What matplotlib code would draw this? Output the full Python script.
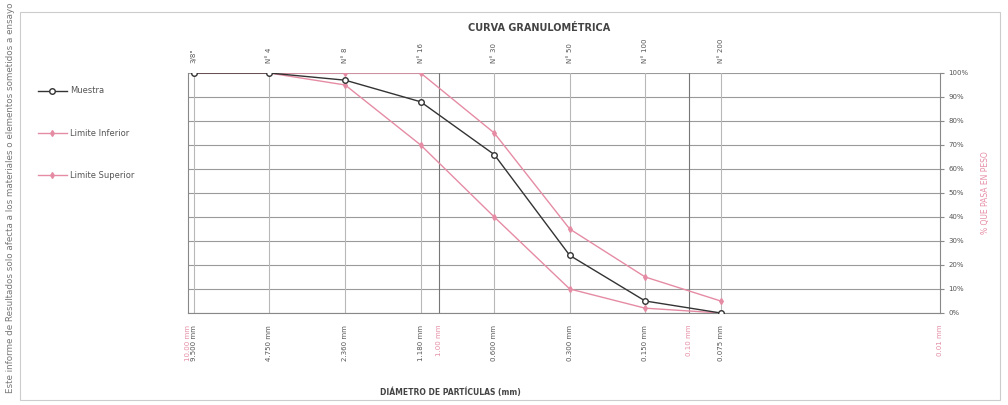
import numpy as np
import matplotlib.pyplot as plt
from matplotlib.patches import Rectangle
from matplotlib.transforms import blended_transform_factory

# sieve series
tamices = ['3/8"', 'N° 4', 'N° 8', 'N° 16', 'N° 30', 'N° 50', 'N° 100', 'N° 200']
aberturas = [9.500, 4.750, 2.360, 1.180, 0.600, 0.300, 0.150, 0.075]

# % passing
muestra = [100, 100, 97, 88, 66, 24, 5, 0]
lim_inferior = [100, 100, 95, 70, 40, 10, 2, 0]
lim_superior = [100, 100, 100, 100, 75, 35, 15, 5]

# decade marks on the diameter axis
decadas = [10.0, 1.0, 0.1, 0.01]
decadas_txt = ['10.00 mm', '1.00 mm', '0.10 mm', '0.01 mm']

rosa = '#e58ca4'
gris = '#555555'

fig = plt.figure(figsize=(10.08, 4.05), dpi=100)
fig.patches.append(Rectangle((0.02, 0.012), 0.972, 0.958, transform=fig.transFigure,
                             fill=False, edgecolor='#cccccc', lw=0.8))

ax = fig.add_axes([0.1865, 0.2272, 0.746, 0.5926])
ax.set_xscale('log')
ax.set_xlim(10, 0.01)
ax.set_ylim(0, 100)

# grid
for y in range(0, 101, 10):
    ax.axhline(y, color='#9a9a9a', lw=0.8, zorder=1)
for a in aberturas:
    ax.axvline(a, color='#b8b8b8', lw=0.8, zorder=1)
for d in decadas[1:3]:
    ax.axvline(d, color='#777777', lw=0.8, zorder=1)

ax.plot(aberturas, lim_inferior, '-d', color=rosa, lw=1.0, ms=3, zorder=3,
        label='Limite Inferior')
ax.plot(aberturas, lim_superior, '-d', color=rosa, lw=1.0, ms=3, zorder=3,
        label='Limite Superior')
ax.plot(aberturas, muestra, '-o', color='#333333', lw=1.0, ms=4, mfc='white',
        mec='#333333', zorder=4, label='Muestra')

# spines / ticks
ax.spines['top'].set_visible(False)
for s in ['left', 'right', 'bottom']:
    ax.spines[s].set_color('#888888')
ax.yaxis.tick_right()
ax.set_yticks(range(0, 101, 10))
ax.set_yticklabels([f'{v}%' for v in range(0, 101, 10)], fontsize=5, color=gris)
ax.tick_params(axis='y', length=3, color='#888888', pad=3)
ax.set_xticks([])
ax.set_xticks([], minor=True)

tr = blended_transform_factory(ax.transData, ax.transAxes)
for a, t in zip(aberturas, tamices):
    ax.text(a, 1.04, t, transform=tr, rotation=90, ha='center', va='bottom',
            fontsize=5, color=gris)
    ax.text(a, -0.05, f'{a:.3f} mm', transform=tr, rotation=90, ha='center',
            va='top', fontsize=5, color=gris)
for d, t in zip(decadas, decadas_txt):
    ax.text(d, -0.05, t, transform=tr, rotation=90, ha='center', va='top',
            fontsize=5, color=rosa)

fig.text(0.535, 0.93, 'CURVA GRANULOMÉTRICA', ha='center', va='center',
         fontsize=7, fontweight='bold', color='#444444')
fig.text(0.447, 0.032, 'DIÁMETRO DE PARTÍCULAS (mm)', ha='center', va='center',
         fontsize=5.5, fontweight='bold', color='#444444')
fig.text(0.978, 0.525, '% QUE PASA EN PESO', rotation=90, ha='center',
         va='center', fontsize=5.5, color=rosa)
fig.text(0.01, 0.03, 'Este informe de Resultados solo afecta a los materiales o '
         'elementos sometidos a ensayo', rotation=90, ha='center', va='bottom',
         fontsize=6.3, color='#777777')

h, l = ax.get_legend_handles_labels()
fig.legend([h[2], h[0], h[1]], [l[2], l[0], l[1]], loc='upper left',
           bbox_to_anchor=(0.03, 0.805), frameon=False, fontsize=6,
           labelspacing=4.0, handlelength=3.5, handletextpad=0.4,
           labelcolor=gris)

fig.savefig('out.png', dpi=100)
